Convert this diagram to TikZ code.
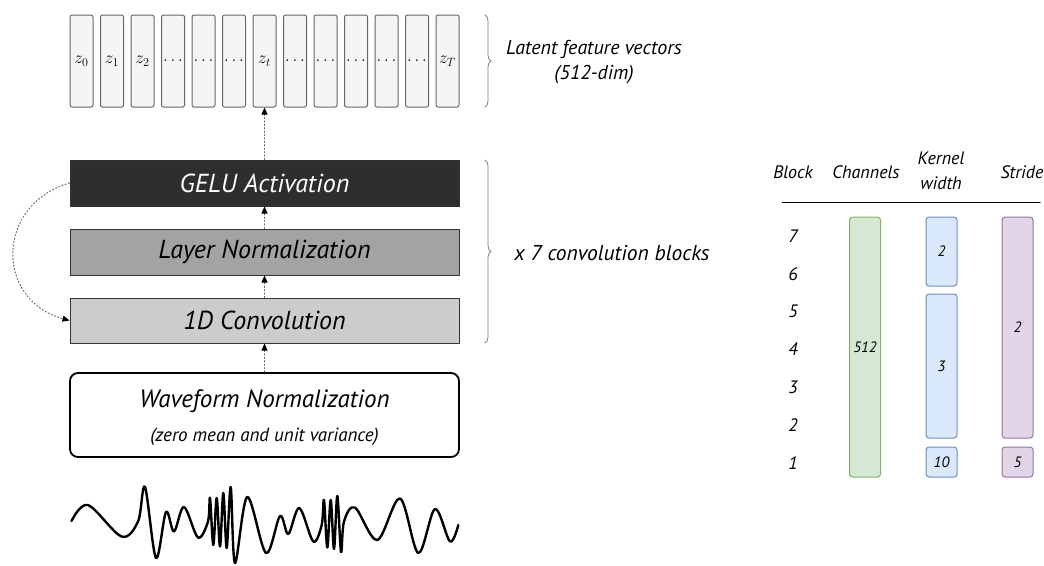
\documentclass[tikz,border=0pt]{standalone}
\usepackage{fontspec}
\setmainfont{PT Sans}
\usetikzlibrary{arrows.meta,decorations.pathreplacing}
\definecolor{gelufill}{HTML}{2E2E2E}
\definecolor{lnfill}{HTML}{A3A3A3}
\definecolor{convfill}{HTML}{CCCCCC}
\definecolor{chfill}{HTML}{D5E8D4}
\definecolor{chdraw}{HTML}{82B366}
\definecolor{kwfill}{HTML}{DAE8FC}
\definecolor{kwdraw}{HTML}{6C8EBF}
\definecolor{stfill}{HTML}{E1D5E7}
\definecolor{stdraw}{HTML}{9673A6}
\begin{document}
\begin{tikzpicture}[x=1pt,y=-1pt,line join=round,line cap=round,font=\itshape,
  vec/.style={draw=black!60,fill=black!4,rounded corners=2pt,minimum width=23pt,minimum height=92pt,inner sep=0pt,line width=1pt,font=\fontsize{18}{20}\selectfont},
  layer/.style={draw=black!80,minimum width=389pt,minimum height=46pt,inner sep=0pt,line width=1pt,font=\itshape\fontsize{26}{28}\selectfont},
  link/.style={dash pattern=on 1.2pt off 2.2pt,black!60,line width=1pt,-{Triangle[length=7pt,width=6pt,color=black]}},
  brc/.style={decorate,decoration={brace,amplitude=6pt},black!50,line width=0.8pt},
  bar/.style={rounded corners=3pt,line width=1pt,minimum width=31pt,inner sep=0pt,font=\itshape\fontsize{15}{16}\selectfont},
  head/.style={font=\itshape\fontsize{18}{25}\selectfont,align=center}]
\useasboundingbox (0,0) rectangle (1044,565);

% latent feature vectors
\foreach \lab [count=\i from 0] in {z_0,z_1,z_2,\dots,\dots,\dots,z_t,\dots,\dots,\dots,\dots,\dots,z_T}
  \node[vec] (z\i) at ({81.5+30.5*\i},61) {$\lab$};
\draw[brc] (485,15) -- (485,107);
\node[head,font=\itshape\fontsize{20}{25}\selectfont] (latent) at (594,62) {Latent feature vectors\\(512-dim)};

% feature encoder
\node[layer,fill=gelufill,text=white] (gelu) at (264.5,183) {GELU Activation};
\node[layer,fill=lnfill] (lnorm) at (264.5,252) {Layer Normalization};
\node[layer,fill=convfill,minimum height=45pt] (conv) at (264.5,320.5) {1D Convolution};
\node[draw=black,line width=1.8pt,rounded corners=8pt,minimum width=389pt,minimum height=84pt] (wnorm) at (264.5,415) {};
\node[font=\itshape\fontsize{25}{28}\selectfont] (wtitle) at (264.5,401) {Waveform Normalization};
\node[font=\itshape\fontsize{19}{22}\selectfont] (wsub) at (264.5,437) {(zero mean and unit variance)};

\draw[link] (gelu.north) -- (z6.south);
\draw[link] (lnorm.north) -- (gelu.south);
\draw[link] (conv.north) -- (lnorm.south);
\draw[link] (wnorm.north) -- (conv.south);
\draw[link] (gelu.west) .. controls (-5,205) and (-5,300) .. (conv.west);

\draw[brc] (485,160) -- (485,343);
\node[font=\itshape\fontsize{21.5}{24}\selectfont] (repeat) at (612,253) {x 7 convolution blocks};

% raw waveform
\draw[line width=2.4pt] plot[smooth,tension=0.55] coordinates {
  (71.5,521) (88,505) (121.5,536.5) (138,521.5) (145,487) (156,558) (166,512)
  (174,531.5) (184,507) (198,537.5) (208,521.5) (210,498) (213.3,545) (216.7,498)
  (220,546.5) (223.3,493) (226.7,548) (230.7,487) (235,563) (247.3,497)
  (266,553) (280,516) (288.3,534) (299.3,508) (313.3,541.5) (321.7,525) (324,500)
  (327.3,547.5) (330.7,500) (334,549) (337.3,496) (341,552) (344,521.5) (355,507.5)
  (377.3,540) (400,498.5) (418.3,553) (435,509) (450,541.5) (458.3,525)};

% configuration table
\node[head] (hblock) at (793,172) {Block};
\node[head] (hchan) at (866,172) {Channels};
\node[head] (hkern) at (941,171) {Kernel\\width};
\node[head] (hstride) at (1022,172) {Stride};
\draw[line width=1pt] (782,202) -- (1040,202);
\foreach \b [count=\i from 0] in {7,...,1}
  \node[font=\itshape\fontsize{18}{20}\selectfont] (row\b) at (793,{236+37.8*\i}) {\b};

\node[bar,draw=chdraw,fill=chfill,minimum height=260pt] (chan) at (865,347) {512};
\node[bar,draw=kwdraw,fill=kwfill,minimum height=69pt] (kwa) at (941.5,251.5) {2};
\node[bar,draw=kwdraw,fill=kwfill,minimum height=144pt] (kwb) at (941.5,366) {3};
\node[bar,draw=kwdraw,fill=kwfill,minimum height=30pt] (kwc) at (941.5,462) {10};
\node[bar,draw=stdraw,fill=stfill,minimum height=221pt] (sta) at (1017.5,327.5) {2};
\node[bar,draw=stdraw,fill=stfill,minimum height=30pt] (stb) at (1017.5,462) {5};
\end{tikzpicture}
\end{document}
